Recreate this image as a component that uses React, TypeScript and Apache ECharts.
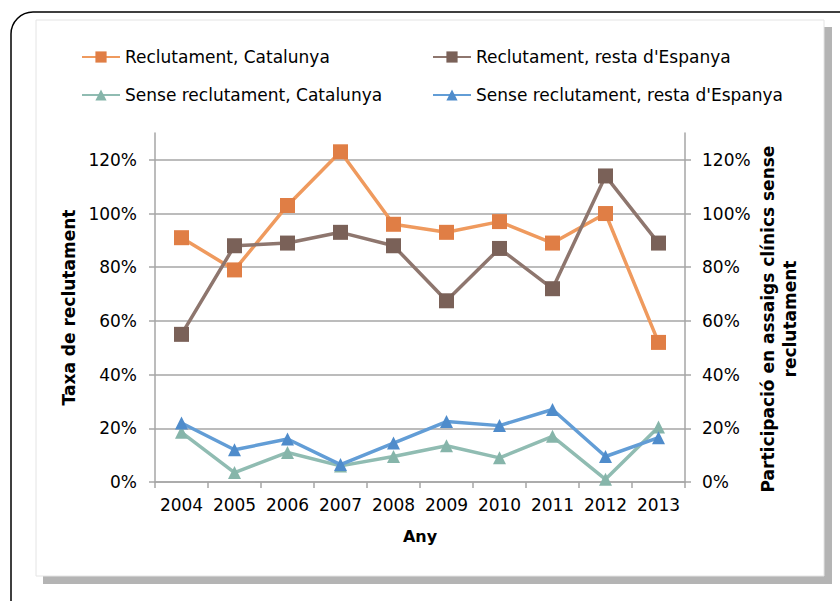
import React, { useEffect, useRef } from 'react';
import * as echarts from 'echarts';

const years = ['2004', '2005', '2006', '2007', '2008', '2009', '2010', '2011', '2012', '2013'];
const recCat = [0.91, 0.79, 1.03, 1.23, 0.96, 0.93, 0.97, 0.89, 1.0, 0.52];
const recResta = [0.55, 0.88, 0.89, 0.93, 0.88, 0.675, 0.87, 0.72, 1.14, 0.89];
const senseCat = [0.185, 0.035, 0.11, 0.06, 0.095, 0.135, 0.09, 0.17, 0.01, 0.205];
const senseResta = [0.22, 0.12, 0.16, 0.065, 0.145, 0.225, 0.21, 0.27, 0.095, 0.165];
const yTicks = [0, 0.2, 0.4, 0.6, 0.8, 1.0, 1.2];

const FONT = 'DejaVu Sans';
const GRID = '#A6A6A6';

export default function App() {
  const ref = useRef<HTMLDivElement>(null);
  useEffect(() => {
    if (!ref.current) return;
    const chart = echarts.init(ref.current, null, { renderer: 'svg' });
    const pct = (v: number) => Math.round(v * 100) + '%';
    const yBase = (pos: 'left' | 'right', grid: boolean) => ({
      type: 'value',
      position: pos,
      min: 0,
      max: 1.3,
      interval: 0.2,
      axisLine: { show: true, lineStyle: { color: GRID, width: 1.5 } },
      axisTick: { show: true, length: 6, inside: false, customValues: yTicks, lineStyle: { color: GRID, width: 1.5 } },
      axisLabel: {
        customValues: yTicks,
        formatter: pct,
        margin: pos === 'left' ? 18 : 17,
        fontSize: 17,
        fontFamily: FONT,
        color: '#000',
      },
      splitLine: { show: grid, lineStyle: { color: GRID, width: 1.5 } },
    });
    const legendText = { fontSize: 17, fontFamily: FONT, color: '#000', lineHeight: 20 };
    chart.setOption({
      animation: false,
      backgroundColor: '#fff',
      graphic: [
        {
          type: 'rect',
          z: -10,
          shape: { x: 11, y: 12, width: 850, height: 615, r: 22 },
          style: { fill: '#fff', stroke: '#000', lineWidth: 1.5 },
        },
        {
          type: 'rect',
          z: -9,
          shape: { x: 43, y: 27, width: 789, height: 557 },
          style: { fill: '#b4b4b4' },
        },
        {
          type: 'rect',
          z: -8,
          shape: { x: 36, y: 20, width: 788, height: 556 },
          style: { fill: '#fff', stroke: '#e4e4e4', lineWidth: 1 },
        },
        {
          type: 'text',
          z: 10,
          x: 779,
          y: 319,
          rotation: Math.PI / 2,
          style: {
            text: 'Participació en assaigs clínics sense\nreclutament',
            fontSize: 17,
            fontWeight: 'bold',
            fontFamily: FONT,
            fill: '#000',
            align: 'center',
            verticalAlign: 'middle',
            lineHeight: 22,
          },
        },
      ],
      legend: [
        {
          left: 81,
          top: 47,
          orient: 'vertical',
          itemGap: 18,
          itemWidth: 38,
          itemHeight: 14,
          padding: 0,
          data: ['Reclutament, Catalunya', 'Sense reclutament, Catalunya'],
          textStyle: legendText,
        },
        {
          left: 432,
          top: 47,
          orient: 'vertical',
          itemGap: 18,
          itemWidth: 38,
          itemHeight: 14,
          padding: 0,
          data: ["Reclutament, resta d'Espanya", "Sense reclutament, resta d'Espanya"],
          textStyle: legendText,
        },
      ],
      grid: { left: 155, right: 155, top: 133, bottom: 119, containLabel: false },
      xAxis: {
        type: 'category',
        data: years,
        boundaryGap: true,
        axisLine: { show: true, lineStyle: { color: GRID, width: 1.5 } },
        axisTick: { show: true, length: 6, lineStyle: { color: GRID, width: 1.5 } },
        axisLabel: { fontSize: 17, fontFamily: FONT, color: '#000', margin: 14, interval: 0 },
        name: 'Any',
        nameLocation: 'middle',
        nameGap: 46,
        nameTextStyle: { fontSize: 16, fontWeight: 'bold', fontFamily: FONT, color: '#000' },
      },
      yAxis: [
        {
          ...yBase('left', true),
          name: 'Taxa de reclutament',
          nameLocation: 'middle',
          nameRotate: 90,
          nameGap: 68,
          nameTextStyle: { fontSize: 17, fontWeight: 'bold', fontFamily: FONT, color: '#000' },
        },
        {
          ...yBase('right', false),
        },
      ],
      series: [
        {
          name: 'Reclutament, Catalunya',
          type: 'line',
          yAxisIndex: 0,
          data: recCat,
          symbol: 'rect',
          symbolSize: 15,
          itemStyle: { color: '#E07E45' },
          lineStyle: { color: '#EF9A5E', width: 3.5 },
          z: 3,
        },
        {
          name: "Reclutament, resta d'Espanya",
          type: 'line',
          yAxisIndex: 0,
          data: recResta,
          symbol: 'rect',
          symbolSize: 15,
          itemStyle: { color: '#7A6158' },
          lineStyle: { color: '#8E766E', width: 3.5 },
          z: 4,
        },
        {
          name: 'Sense reclutament, Catalunya',
          type: 'line',
          yAxisIndex: 1,
          data: senseCat,
          symbol: 'triangle',
          symbolSize: 13,
          itemStyle: { color: '#86B5AA' },
          lineStyle: { color: '#90BCB2', width: 3.5 },
          z: 3,
        },
        {
          name: "Sense reclutament, resta d'Espanya",
          type: 'line',
          yAxisIndex: 1,
          data: senseResta,
          symbol: 'triangle',
          symbolSize: 13,
          itemStyle: { color: '#4F8CCB' },
          lineStyle: { color: '#629DD6', width: 3.5 },
          z: 4,
        },
      ],
    });
    return () => chart.dispose();
  }, []);
  return <div ref={ref} style={{ position: 'fixed', left: 0, top: 0, width: 840, height: 601 }} />;
}
